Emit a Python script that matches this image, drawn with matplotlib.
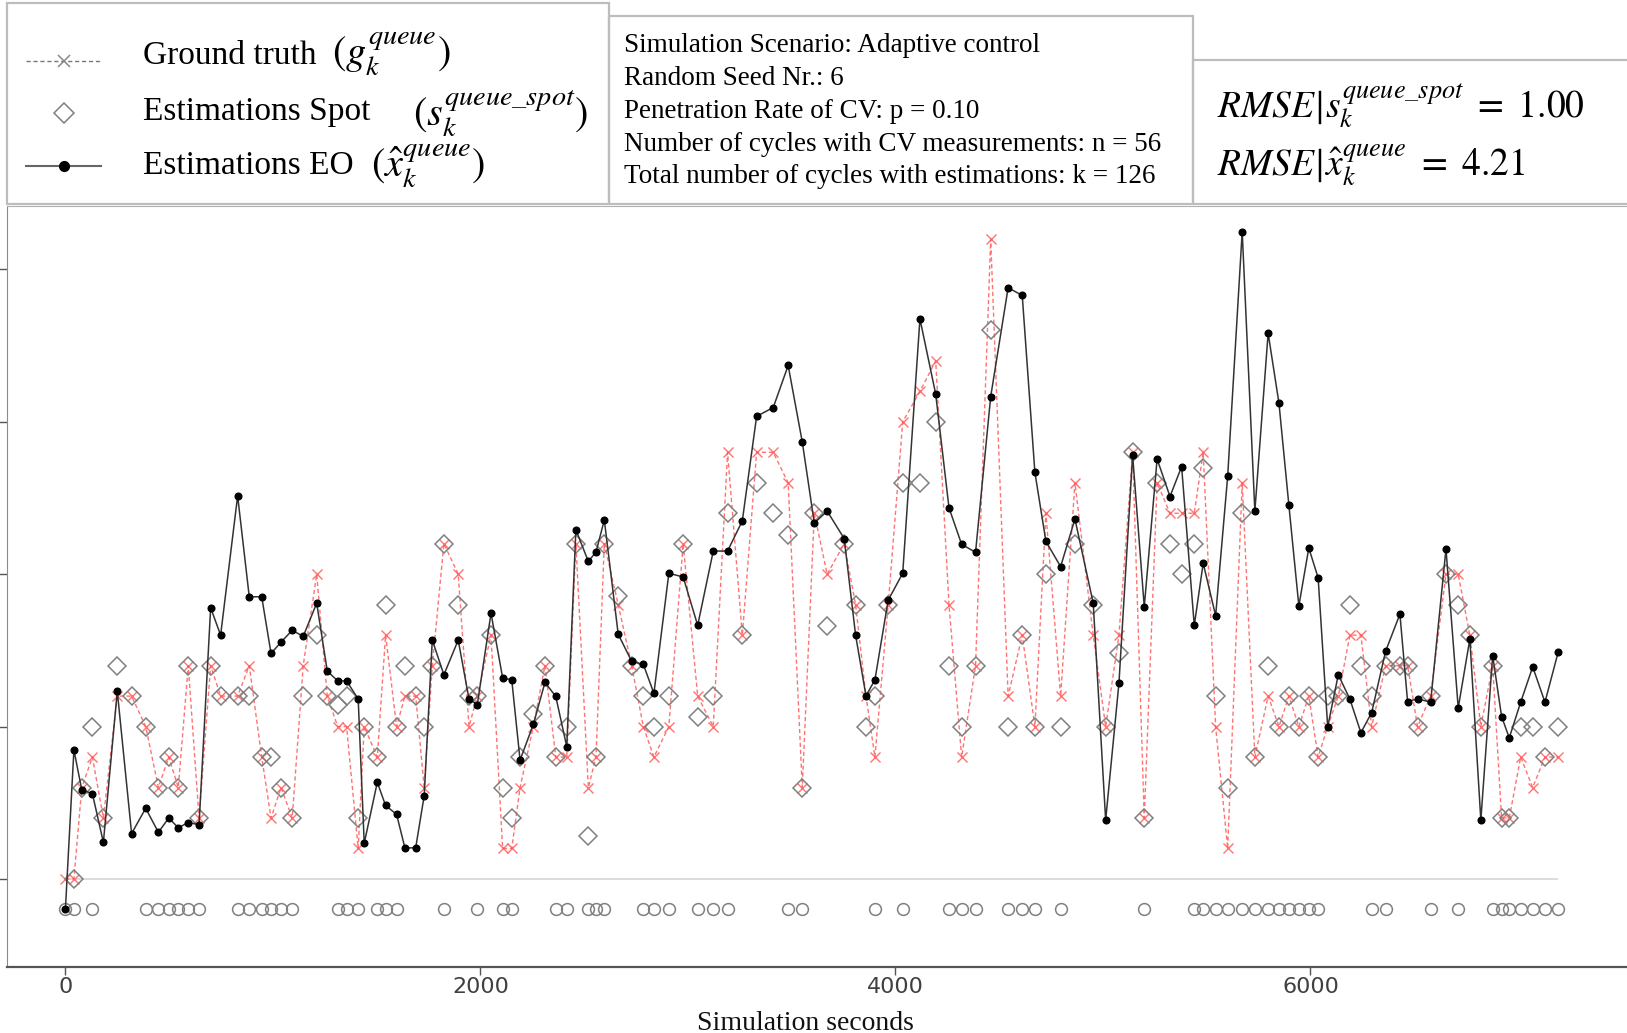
import numpy as np
import matplotlib.pyplot as plt
from matplotlib.patches import Rectangle
from matplotlib.lines import Line2D

plt.rcParams['mathtext.fontset'] = 'stix'

## data (one entry per signal cycle) ##

cycle_time = [0, 41, 79, 130, 183, 250, 319, 387, 448, 498, 544, 592, 644, 700, 748,
              830, 886, 946, 991, 1039, 1093, 1146, 1211, 1262, 1312, 1355, 1411, 1440,
              1503, 1543, 1596, 1636, 1688, 1729, 1768, 1824, 1893, 1945, 1985, 2051,
              2107, 2151, 2191, 2255, 2311, 2363, 2416, 2460, 2520, 2557, 2597, 2664,
              2729, 2785, 2836, 2908, 2977, 3047, 3122, 3191, 3262, 3331, 3411, 3483,
              3551, 3609, 3671, 3753, 3808, 3858, 3901, 3965, 4035, 4118, 4194, 4258,
              4319, 4386, 4459, 4543, 4611, 4672, 4725, 4796, 4865, 4953, 5013, 5077,
              5143, 5199, 5261, 5323, 5379, 5440, 5483, 5543, 5601, 5671, 5732, 5796,
              5848, 5896, 5944, 5992, 6037, 6083, 6134, 6190, 6243, 6295, 6362, 6431,
              6468, 6516, 6579, 6653, 6712, 6768, 6821, 6878, 6921, 6958, 7013, 7071,
              7130, 7194]

ground_truth = [0, 0, 3, 4, 2, 6, 6, 5, 3, 4, 3, 7, 2, 7, 6, 6, 7, 4, 2, 3, 2, 7, 10, 6,
                5, 5, 1, 5, 4, 8, 5, 6, 6, 3, 7, 11, 10, 5, 6, 8, 1, 1, 3, 5, 7, 4, 4, 11,
                3, 4, 11, 9, 7, 5, 4, 5, 11, 6, 5, 14, 8, 14, 14, 13, 3, 12, 10, 11, 9, 6,
                4, 9, 15, 16, 17, 9, 4, 7, 21, 6, 8, 5, 12, 6, 13, 8, 5, 8, 14, 2, 13, 12,
                12, 12, 14, 5, 1, 13, 4, 6, 5, 6, 5, 6, 4, 5, 6, 8, 8, 5, 7, 7, 7, 5, 6,
                10, 10, 8, 5, 7, 2, 2, 4, 3, 4, 4]

spot = [np.nan, 0, 3, 5, 2, 7, 6, 5, 3, 4, 3, 7, 2, 7, 6, 6, 6, 4, 4, 3, 2, 6, 8, 6,
        5.7, 6, 2, 5, 4, 9, 5, 7, 6, 5, 7, 11, 9, 6, 6, 8, 3, 2, 4, 5.4, 7, 4, 5, 11,
        1.4, 4, 11, 9.3, 7, 6, 5, 6, 11, 5.3, 6, 12, 8, 13, 12, 11.3, 3, 12, 8.3, 11, 9,
        5, 6, 9, 13, 13, 15, 7, 5, 7, 18, 5, 8, 5, 10, 5, 11, 9, 5, 7.4, 14, 2, 13, 11,
        10, 11, 13.5, 6, 3, 12, 4, 7, 5, 6, 5, 6, 4, 6, 6, 9, 7, 6, 7, 7, 7, 5, 6, 10,
        9, 8, 5, 7, 2, 2, 5, 5, 4, 5]

estimation_eo = [-1, 4.23, 2.92, 2.8, 1.2, 6.16, 1.49, 2.32, 1.53, 2.0, 1.68, 1.85, 1.78,
                 8.9, 8.0, 12.57, 9.26, 9.26, 7.4, 7.77, 8.16, 7.96, 9.05, 6.82, 6.5, 6.5,
                 5.9, 1.17, 3.17, 2.41, 2.12, 1.02, 1.02, 2.73, 7.84, 6.7, 7.84, 5.9, 5.72,
                 8.72, 6.6, 6.53, 3.9, 5.07, 6.45, 5.99, 4.34, 11.46, 10.42, 10.73, 11.78,
                 8.03, 7.14, 7.04, 6.09, 10.03, 9.91, 8.32, 10.76, 10.76, 11.75, 15.18,
                 15.47, 16.85, 14.34, 11.68, 12.07, 11.17, 8.0, 6.01, 6.53, 9.15, 10.03,
                 18.38, 15.91, 12.18, 10.98, 10.72, 15.83, 19.4, 19.15, 13.34, 11.08,
                 10.25, 11.81, 9.05, 1.93, 6.42, 13.9, 8.93, 13.78, 12.55, 13.53, 8.32,
                 10.36, 8.64, 13.21, 21.24, 12.07, 17.91, 15.62, 12.26, 8.96, 10.86, 9.88,
                 4.99, 6.7, 5.9, 4.8, 5.46, 7.47, 8.69, 5.82, 5.91, 5.8, 10.83, 5.61, 7.87,
                 1.93, 7.33, 5.33, 4.63, 5.8, 6.96, 5.8, 7.45]

# cycles (1-based) marked with an open circle on the bottom row
cycles_no_cv = [1, 2, 4, 8, 9, 10, 11, 12, 13, 16, 17, 18, 19, 20, 21, 25, 26, 27, 29, 30,
                31, 36, 39, 41, 42, 46, 47, 49, 50, 51, 54, 55, 56, 58, 59, 60, 64, 65, 71,
                73, 76, 77, 78, 80, 81, 82, 84, 90, 94, 95, 96, 97, 98, 99, 100, 101, 102,
                103, 104, 105, 110, 111, 115, 117, 120, 121, 122, 123, 124, 125, 126]
no_cv_level = -1

x_ticks = [0, 2000, 4000, 6000]

info_lines = ['Simulation Scenario: Adaptive control',
              'Random Seed Nr.: 6',
              'Penetration Rate of CV: p = 0.10',
              'Number of cycles with CV measurements: n = 56',
              'Total number of cycles with estimations: k = 126']
rmse_spot = 1.00
rmse_eo = 4.21

## figure ##

W, H = 1627, 1033
fig = plt.figure(figsize=(W / 100, H / 100), dpi=100)


def px(x, y):
    return x / W, 1 - y / H


def box(x0, y0, x1, y1):
    return [x0 / W, 1 - y1 / H, (x1 - x0) / W, (y1 - y0) / H]


serif = ['Liberation Serif', 'DejaVu Serif']
narrow = ['Liberation Sans Narrow', 'DejaVu Sans']

t = np.array(cycle_time)
ax = fig.add_axes(box(7.3, 205.5, W + 2, 967))

ax.hlines(0, t[0], t[-1], color='#d9d9d9', lw=1.3, zorder=1)
ax.plot(t, ground_truth, color='#ff5a5a', ls=(0, (3, 2)), lw=1, marker='x', ms=7,
        mew=1, alpha=0.85, zorder=2)
ax.plot(t, spot, ls='none', marker='D', ms=9.5, mfc='none', mec='#808080', mew=1.1,
        zorder=3)
idx = np.array(cycles_no_cv) - 1
ax.plot(t[idx], [no_cv_level] * len(idx), ls='none', marker='o', ms=8.5, mfc='none',
        mec='#808080', mew=1.1, zorder=3)
ax.plot(t, estimation_eo, color='#333333', lw=1.1, marker='o', ms=4.8, mfc='black',
        mec='black', zorder=4)

ax.set_xlim(-280, 7535)
ax.set_ylim(-2.89, 22.1)
ax.set_xticks(x_ticks)
ax.set_xticklabels([str(v) for v in x_ticks], family=narrow, fontsize=16, color='#404040')
ax.set_yticks([0, 5, 10, 15, 20])
ax.set_yticklabels([])
ax.tick_params(axis='both', direction='out', length=6, width=1, color='#555555', pad=1)
ax.spines['right'].set_visible(False)
ax.spines['top'].set_color('#b0b0b0')
ax.spines['left'].set_color('#8a8a8a')
ax.spines['bottom'].set_color('#555555')
ax.spines['bottom'].set_linewidth(1.6)

fig.text(*px(805, 1023), 'Simulation seconds', family=serif, fontsize=20,
         ha='center', va='center', color='#111111')

# boxes above the plot
for x0, y0, x1, y1 in [(7, 3, 609, 204), (609, 16, 1193, 204), (1193, 60, W + 5, 204)]:
    fig.add_artist(Rectangle(px(x0, y1), (x1 - x0) / W, (y1 - y0) / H,
                             transform=fig.transFigure, fill=False,
                             ec='#bdbdbd', lw=1.6))

# legend samples
def sample(y, **kw):
    fig.add_artist(Line2D([26 / W, 101 / W], [1 - y / H] * 2, transform=fig.transFigure,
                          **kw))


sample(61, color='#777777', ls=(0, (3, 2)), lw=1)
fig.add_artist(Line2D([64 / W], [1 - 61 / H], transform=fig.transFigure, ls='none',
                      marker='x', ms=9, mew=1.1, color='#888888'))
fig.add_artist(Line2D([64 / W], [1 - 113 / H], transform=fig.transFigure, ls='none',
                      marker='D', ms=10, mfc='none', mec='#808080', mew=1.1))
sample(166, color='#666666', lw=1.5)
fig.add_artist(Line2D([64 / W], [1 - 166 / H], transform=fig.transFigure, ls='none',
                      marker='o', ms=7, color='black'))

fig.text(*px(143, 56), 'Ground truth', family=serif, fontsize=24, va='center')
fig.text(*px(332, 54), r'$(g_k^{queue})$', fontsize=29, va='center')
fig.text(*px(143, 112), 'Estimations Spot', family=serif, fontsize=24, va='center')
fig.text(*px(413, 113), r'$(s_k^{queue\_spot})$', fontsize=29, va='center')
fig.text(*px(143, 166), 'Estimations EO', family=serif, fontsize=24, va='center')
fig.text(*px(371, 166), r'$(\hat{x}_k^{queue})$', fontsize=29, va='center')

for i, line in enumerate(info_lines):
    fig.text(*px(624, 46 + 32.7 * i), line, family=serif, fontsize=19.5, va='center')

fig.text(*px(1217, 106), r'$RMSE\!\mid\!s_k^{queue\_spot}\ =\ %.2f$' % rmse_spot,
         fontsize=27, va='center')
fig.text(*px(1217, 165), r'$RMSE\!\mid\!\hat{x}_k^{queue}\ =\ %.2f$' % rmse_eo,
         fontsize=27, va='center')

fig.savefig('out.png', dpi=100)
